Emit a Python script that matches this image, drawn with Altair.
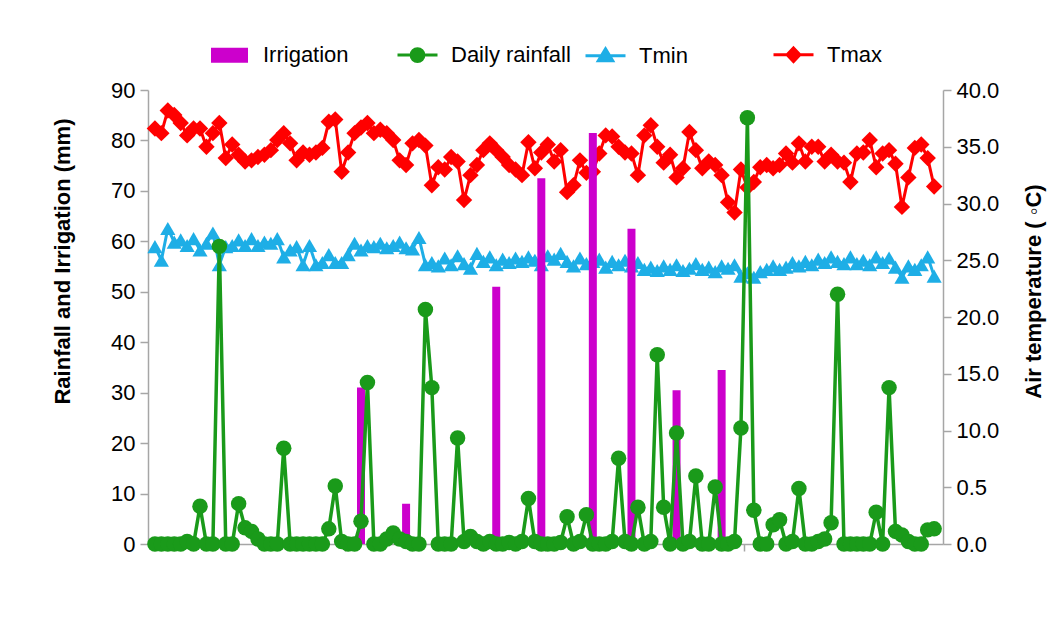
import altair as alt
import pandas as pd

# ---------------- data ----------------
days = list(range(1, 123))

rain = [0, 0, 0, 0, 0, 0.5, 0, 7.5, 0, 0,
        59, 0, 0, 8, 3.2, 2.5, 1, 0, 0, 0,
        19, 0, 0, 0, 0, 0, 0, 3, 11.5, 0.5,
        0, 0, 4.5, 32, 0, 0, 1, 2.2, 1, 0.5,
        0, 0, 46.5, 31, 0, 0, 0, 21, 0.5, 1.5,
        0.5, 0, 0.5, 0, 0, 0.3, 0, 0.5, 9, 0.5,
        0, 0, 0, 0.3, 5.4, 0, 0.5, 5.8, 0, 0,
        0, 0.5, 17, 0.5, 0, 7.3, 0, 0.5, 37.5, 7.3,
        0, 22, 0, 0.5, 13.5, 0, 0, 11.3, 0, 0,
        0.5, 23, 84.5, 6.7, 0, 0, 3.8, 4.8, 0, 0.5,
        11, 0, 0, 0.5, 1, 4.2, 49.5, 0, 0, 0,
        0, 0, 6.3, 0, 31, 2.5, 1.8, 0.5, 0, 0,
        2.8, 3]

tmax = [36.6, 36.2, 38.2, 37.8, 37.1, 36.0, 36.6, 36.6, 35.0, 36.2,
        37.1, 34.0, 35.2, 34.3, 33.7, 33.8, 34.1, 34.3, 34.7, 35.6,
        36.2, 35.3, 33.8, 34.5, 34.3, 34.5, 34.9, 37.2, 37.4, 32.8,
        34.5, 36.2, 36.7, 37.1, 36.2, 36.5, 36.2, 35.6, 33.8, 33.4,
        35.3, 35.6, 35.1, 31.6, 33.2, 33.0, 34.1, 33.7, 30.3, 32.5,
        33.4, 34.7, 35.3, 34.7, 34.1, 33.4, 33.0, 32.5, 35.4, 33.1,
        34.5, 35.2, 33.7, 34.7, 31.0, 31.6, 33.8, 32.7, 32.8, 34.4,
        36.0, 35.9, 35.0, 34.5, 34.4, 32.5, 36.0, 36.9, 35.0, 33.6,
        34.3, 32.3, 33.1, 36.3, 34.7, 33.1, 33.7, 33.4, 32.5, 30.1,
        29.2, 33.0, 31.4, 31.9, 33.2, 33.4, 33.1, 33.4, 34.4, 33.6,
        35.3, 33.7, 35.0, 35.0, 33.7, 34.3, 33.7, 33.6, 31.9, 34.4,
        34.5, 35.6, 33.2, 34.4, 34.7, 33.5, 29.7, 32.3, 34.9, 35.2,
        34.0, 31.5]

tmin = [26.2, 25.0, 27.8, 26.6, 26.8, 26.3, 26.9, 25.9, 26.5, 27.4,
        24.6, 26.2, 26.3, 26.8, 26.3, 26.9, 26.3, 26.6, 26.5, 26.9,
        25.3, 25.9, 26.2, 24.6, 26.3, 24.6, 24.8, 25.5, 24.8, 24.8,
        25.5, 26.5, 25.9, 26.3, 26.2, 26.5, 26.1, 26.3, 26.6, 26.1,
        26.0, 27.0, 24.6, 24.8, 24.5, 25.2, 24.6, 25.4, 24.7, 24.3,
        25.6, 24.9, 25.3, 24.6, 25.1, 24.8, 25.2, 24.9, 25.3, 25.0,
        24.6, 25.4, 25.1, 25.6, 24.9, 24.5, 25.2, 24.7, 24.9, 25.1,
        24.4, 24.9, 24.6, 25.0, 24.5, 24.8, 24.2, 24.4, 24.1, 24.5,
        24.2, 24.6, 24.1, 24.3, 24.7, 24.2, 24.4, 24.0, 24.5, 24.3,
        24.6, 23.6, 23.9, 23.5, 24.0, 24.2, 24.5, 24.2, 24.4, 24.8,
        24.5, 24.9, 24.6, 25.1, 24.8, 25.3, 24.9, 24.7, 25.3, 24.7,
        25.0, 24.6, 25.3, 24.8, 25.2, 24.4, 23.5, 24.5, 24.2, 24.6,
        25.3, 23.6]

irr_day = [33, 40, 54, 61, 69, 75, 82, 89]
irr_mm = [31, 8, 51, 72.5, 81.5, 62.5, 30.5, 34.5]

series = ["Irrigation", "Daily rainfall", "Tmin", "Tmax"]
colors = ["#cc00cc", "#1a9a1a", "#1eaee6", "#ff0000"]
legend_shapes = [
    "M-0.85,-0.3H0.85V0.3H-0.85Z",
    "M-1,0H1M-0.32,0A0.32,0.32 0 1,0 0.32,0A0.32,0.32 0 1,0 -0.32,0Z",
    "M-1,0H1M0,-0.34L0.36,0.26L-0.36,0.26Z",
    "M-1,0H1M0,-0.34L0.32,0L0,0.34L-0.32,0Z",
]

left_ticks = list(range(0, 91, 10))
right_ticks = list(range(0, 41, 5))
x_ticks = [30.5, 61.5, 92.5]

left_title = "Rainfall and Irrigation (mm)"
right_title = "Air temperature ( \u25e6C)"

# ---------------- tables ----------------
rain_df = pd.DataFrame({"day": days, "mm": rain})
irr_df = pd.DataFrame({"day": irr_day, "mm": irr_mm})
tmin_df = pd.DataFrame({"day": days, "temp": tmin})
tmax_df = pd.DataFrame({"day": days, "temp": tmax})
leg_df = pd.DataFrame({"day": [days[0]] * 4, "mm": [0] * 4, "series": series})

FONT = "Liberation Sans"
GREY = "#a6a6a6"

X = alt.X(
    "day:Q",
    scale=alt.Scale(domain=[0.7, 122.6], nice=False, zero=False),
    axis=alt.Axis(values=x_ticks, labels=False, title=None, grid=False,
                  domainColor=GREY, tickColor=GREY, tickSize=7,
                  domainWidth=1.5, tickWidth=1.5),
)

left_axis = alt.Axis(
    orient="left", values=left_ticks, grid=False, title=left_title,
    domainColor=GREY, tickColor=GREY, tickSize=8, domainWidth=1.5, tickWidth=1.5,
    labelFont=FONT, labelFontSize=22, labelColor="#000", labelPadding=5,
    titleFont=FONT, titleFontSize=22, titleFontWeight="bold", titleColor="#000",
    titleAngle=270, titleX=-86, titleY=171, titleAlign="center", titleBaseline="middle",
)
YL = alt.Y("mm:Q", scale=alt.Scale(domain=[0, 90], nice=False), axis=left_axis)

right_axis = alt.Axis(
    orient="right", values=right_ticks, grid=False, title=right_title,
    labelExpr="datum.value == 5 ? '0.5' : format(datum.value, '.1f')",
    domainColor=GREY, tickColor=GREY, tickSize=8, domainWidth=1.5, tickWidth=1.5,
    labelFont=FONT, labelFontSize=22, labelColor="#000", labelPadding=5,
    titleFont=FONT, titleFontSize=22, titleFontWeight="bold", titleColor="#000",
    titleAngle=270, titleX=90, titleY=201, titleAlign="center", titleBaseline="middle",
)
YR = alt.Y("temp:Q", scale=alt.Scale(domain=[0, 40], nice=False), axis=right_axis)

leg = alt.Legend(
    orient="none", legendX=60, legendY=-57, direction="horizontal", columns=4,
    title=None, symbolSize=1600, symbolStrokeWidth=3, symbolOpacity=1,
    labelFont=FONT, labelFontSize=22, labelColor="#000", labelOffset=12,
    columnPadding=8, gridAlign="all", padding=0,
)
cscale = alt.Scale(domain=series, range=colors)
sscale = alt.Scale(domain=series, range=legend_shapes)

# ---------------- temperature (right axis) ----------------
tmin_line = alt.Chart(tmin_df).mark_line(
    color=colors[2], strokeWidth=3,
    point=alt.OverlayMarkDef(shape="triangle-up", size=230, filled=True,
                             color=colors[2], opacity=1),
).encode(x=X, y=YR)

tmax_line = alt.Chart(tmax_df).mark_line(
    color=colors[3], strokeWidth=3,
    point=alt.OverlayMarkDef(shape="diamond", size=270, filled=True,
                             color=colors[3], opacity=1),
).encode(x=X, y=YR)

right = alt.layer(tmin_line, tmax_line)

# ---------------- rain / irrigation (left axis) ----------------
bars = alt.Chart(irr_df).mark_bar(size=8, color=colors[0]).encode(x=X, y=YL)

rain_line = alt.Chart(rain_df).mark_line(
    color=colors[1], strokeWidth=3.5,
    point=alt.OverlayMarkDef(shape="circle", size=240, filled=True,
                             color=colors[1], opacity=1),
).encode(x=X, y=YL)

legend_driver = alt.Chart(leg_df).mark_point(filled=True, opacity=0).encode(
    x=X, y=YL,
    fill=alt.Fill("series:N", scale=cscale, legend=leg),
    stroke=alt.Stroke("series:N", scale=cscale, legend=leg),
    shape=alt.Shape("series:N", scale=sscale, legend=leg),
)

left = alt.layer(bars, rain_line, legend_driver)

chart = (
    alt.layer(right, left)
    .resolve_scale(y="independent")
    .properties(
        width=795, height=454,
        autosize=alt.AutoSizeParams(type="none"),
        padding={"left": 140, "top": 82, "right": 111, "bottom": 97},
        background="white",
    )
    .configure_view(strokeWidth=0)
)

chart.save("out.html", embed_options={"renderer": "svg", "actions": False})
